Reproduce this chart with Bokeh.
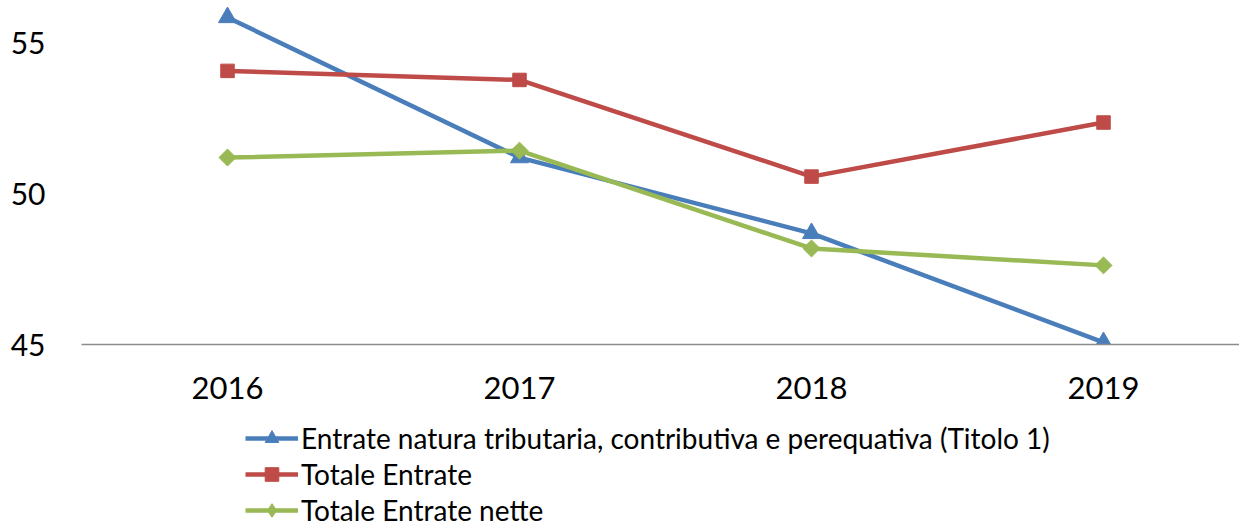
from bokeh.plotting import figure
from bokeh.models import Range1d, FixedTicker, Legend, LegendItem, ColumnDataSource
from bokeh.layouts import column
from bokeh.embed import file_html
from bokeh.resources import INLINE
import math

years = ["2016", "2017", "2018", "2019"]
titolo1 = [55.83, 51.19, 48.68, 45.07]
totale_entrate = [54.06, 53.76, 50.56, 52.35]
totale_nette = [51.19, 51.42, 48.18, 47.62]

series_names = [
    "Entrate natura tributaria, contributiva e perequativa (Titolo 1)",
    "Totale Entrate",
    "Totale Entrate nette",
]
colors = ["#4a7ebb", "#be4b48", "#98b954"]

FONT = "Lato"
LW = 4.5

p = figure(frame_width=1158, frame_height=344, output_backend="svg", toolbar_location=None,
           x_range=Range1d(-0.5, -0.5 + 1158 / 292), y_range=Range1d(45, 45 + 344 / 30.2),
           min_border_left=81, min_border_right=0, min_border_top=0, min_border_bottom=76)
p.outline_line_color = None
p.xgrid.visible = False
p.ygrid.visible = False

xs = list(range(len(years)))
src = ColumnDataSource(dict(x=xs, t1=titolo1, te=totale_entrate, tn=totale_nette))

p.line("x", "t1", source=src, line_color=colors[0], line_width=LW)
p.scatter("x", "t1", source=src, marker="triangle", size=18, fill_color=colors[0], line_color=colors[0])
p.line("x", "te", source=src, line_color=colors[1], line_width=LW)
p.scatter("x", "te", source=src, marker="square", size=13.5, fill_color=colors[1], line_color=colors[1])
p.line("x", "tn", source=src, line_color=colors[2], line_width=LW)
p.scatter("x", "tn", source=src, marker="square", angle=math.pi / 4, size=12,
          fill_color=colors[2], line_color=colors[2])

# x axis
p.xaxis.ticker = FixedTicker(ticks=xs)
p.xaxis.major_label_overrides = {i: y for i, y in enumerate(years)}
p.xaxis.major_tick_in = 0
p.xaxis.major_tick_out = 0
p.xaxis.minor_tick_line_color = None
p.xaxis.axis_line_color = "#8c8c8c"
p.xaxis.axis_line_width = 1.5
p.xaxis.major_label_text_font = FONT
p.xaxis.major_label_text_font_size = "31px"
p.xaxis.major_label_text_color = "black"
p.xaxis.major_label_standoff = 32

# y axis
p.yaxis.ticker = FixedTicker(ticks=[45, 50, 55])
p.yaxis.major_tick_in = 0
p.yaxis.major_tick_out = 0
p.yaxis.minor_tick_line_color = None
p.yaxis.axis_line_color = None
p.yaxis.major_label_text_font = FONT
p.yaxis.major_label_text_font_size = "30px"
p.yaxis.major_label_text_color = "black"
p.yaxis.major_label_standoff = 36

# legend strip below the chart (same series, glyphs kept out of view)
lg = figure(width=1239, height=107, output_backend="svg", toolbar_location=None,
            x_range=Range1d(100, 101), y_range=Range1d(0, 1),
            x_axis_location=None, y_axis_location=None,
            min_border_left=0, min_border_right=0, min_border_top=0, min_border_bottom=0)
lg.outline_line_color = None
lg.xgrid.visible = False
lg.ygrid.visible = False

a1 = lg.line("x", "t1", source=src, line_color=colors[0], line_width=LW)
b1 = lg.scatter("x", "t1", source=src, marker="triangle", size=18, fill_color=colors[0], line_color=colors[0])
a2 = lg.line("x", "te", source=src, line_color=colors[1], line_width=LW)
b2 = lg.scatter("x", "te", source=src, marker="square", size=13.5, fill_color=colors[1], line_color=colors[1])
a3 = lg.line("x", "tn", source=src, line_color=colors[2], line_width=LW)
b3 = lg.scatter("x", "tn", source=src, marker="diamond", size=12, fill_color=colors[2], line_color=colors[2])

legend = Legend(items=[
    LegendItem(label=series_names[0], renderers=[a1, b1]),
    LegendItem(label=series_names[1], renderers=[a2, b2]),
    LegendItem(label=series_names[2], renderers=[a3, b3]),
], location=(164, 0), orientation="vertical")
legend.border_line_color = None
legend.background_fill_alpha = 0
legend.padding = 0
legend.margin = 0
legend.spacing = 2
legend.label_height = 34
legend.glyph_height = 34
legend.glyph_width = 53
legend.label_standoff = 3
legend.label_text_font = FONT
legend.label_text_font_size = "28px"
legend.label_text_color = "black"
lg.add_layout(legend, "center")

layout = column(p, lg, spacing=0)
open("out.html", "w").write(file_html(layout, INLINE))
